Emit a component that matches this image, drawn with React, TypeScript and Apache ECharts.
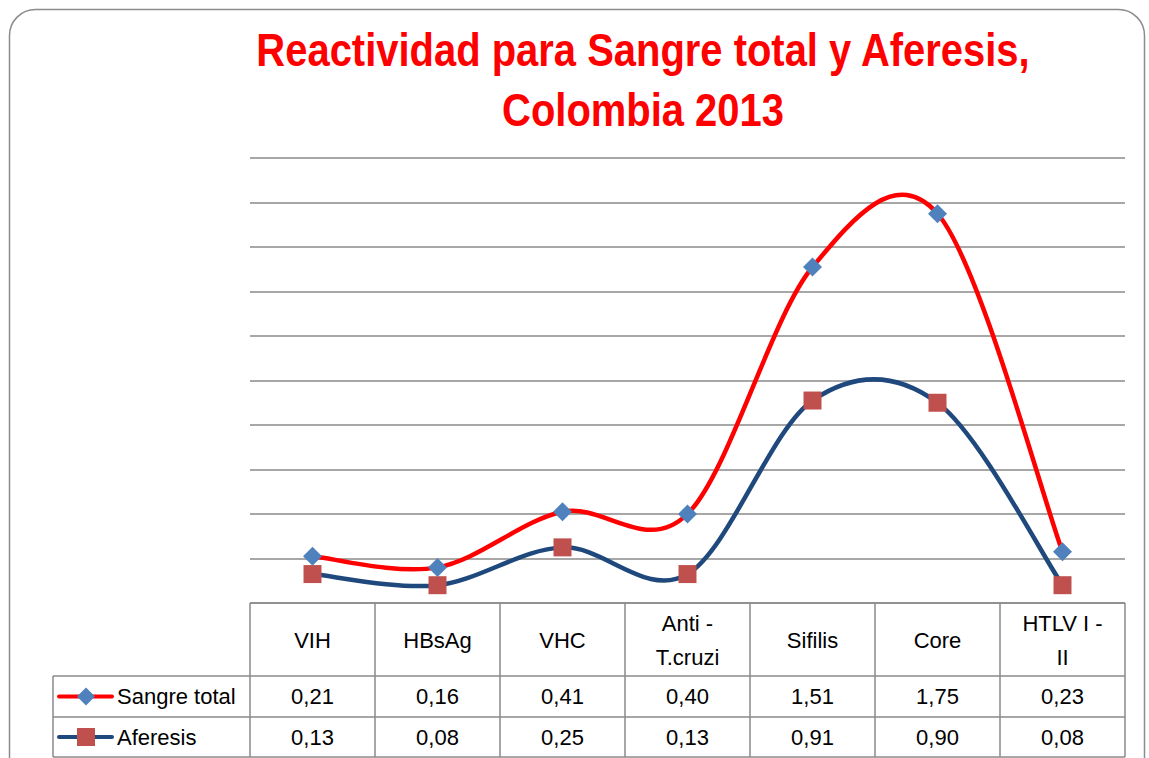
import React, { useEffect, useRef } from "react";
import * as echarts from "echarts";

const categories = ["VIH", "HBsAg", "VHC", "Anti -\nT.cruzi", "Sifilis", "Core", "HTLV I -\nII"];
const seriesNames = ["Sangre total", "Aferesis"];
const sangreTotal = [0.21, 0.16, 0.41, 0.4, 1.51, 1.75, 0.23];
const aferesis = [0.13, 0.08, 0.25, 0.13, 0.91, 0.9, 0.08];
const yMin = 0;
const yMax = 2;
const yInterval = 0.2;
const titleLines = ["Reactividad para Sangre total y Aferesis,", "Colombia 2013"];

const FONT = "'Liberation Sans Narrow', 'Arial Narrow', 'Liberation Sans', sans-serif";
const W = 1149;
const H = 758;
const GRID_L = 250;
const GRID_R = 1125;
const GRID_T = 158;
const GRID_B = 603;
const ROW1 = 676;
const ROW2 = 717;
const ROW3 = 757;
const TABLE_L = 53;
const LINE_COLOR = "#8a8a8a";
const RED = "#ff0000";
const NAVY = "#1f497d";
const BLUE_M = "#4f81bd";
const RED_M = "#c0504d";

const fmt = (v: number) => v.toFixed(2).replace(".", ",");

// Excel-like smoothed curve (Catmull-Rom, tension 1/6) drawn with a custom series
const curveSeries = (name: string, values: number[], color: string, z: number) => ({
  name,
  type: "custom",
  coordinateSystem: "cartesian2d",
  data: values.map((v, i) => [i, v]),
  z,
  silent: true,
  renderItem: (params: any, api: any) => {
    const i = params.dataIndex;
    const n = values.length;
    if (i >= n - 1) return null;
    const pt = (k: number) => {
      const kk = Math.max(0, Math.min(n - 1, k));
      return api.coord([kk, values[kk]]);
    };
    const p0 = pt(i - 1);
    const p1 = pt(i);
    const p2 = pt(i + 1);
    const p3 = pt(i + 2);
    return {
      type: "bezierCurve",
      shape: {
        x1: p1[0],
        y1: p1[1],
        x2: p2[0],
        y2: p2[1],
        cpx1: p1[0] + (p2[0] - p0[0]) / 6,
        cpy1: p1[1] + (p2[1] - p0[1]) / 6,
        cpx2: p2[0] - (p3[0] - p1[0]) / 6,
        cpy2: p2[1] - (p3[1] - p1[1]) / 6,
      },
      style: { stroke: color, lineWidth: 4.5, fill: null, lineCap: "round" },
    };
  },
});

export default function App() {
  const ref = useRef<HTMLDivElement>(null);
  useEffect(() => {
    document.body.style.margin = "0";
    if (!ref.current) return;
    const chart = echarts.init(ref.current, null, { renderer: "svg" });
    const n = categories.length;
    const cw = (GRID_R - GRID_L) / n;
    const g: any[] = [];
    g.push({
      type: "rect",
      shape: { x: 9.5, y: 9.5, width: 1135, height: 800, r: 26 },
      style: { fill: "none", stroke: "#8c8c8c", lineWidth: 1.5 },
      silent: true,
    });
    titleLines.forEach((t, i) => {
      g.push({
        type: "text",
        x: 643,
        y: 50 + i * 60,
        scaleX: 0.85,
        style: {
          text: t,
          fill: RED,
          font: `bold 47px ${FONT}`,
          textAlign: "center",
          textVerticalAlign: "middle",
        },
      });
    });
    const line = (x1: number, y1: number, x2: number, y2: number) => ({
      type: "line",
      shape: { x1, y1, x2, y2 },
      style: { stroke: LINE_COLOR, lineWidth: 1.5 },
      silent: true,
    });
    g.push(line(GRID_L, GRID_B, GRID_R, GRID_B));
    g.push(line(TABLE_L, ROW1, GRID_R, ROW1));
    g.push(line(TABLE_L, ROW2, GRID_R, ROW2));
    g.push(line(TABLE_L, ROW3, GRID_R, ROW3));
    g.push(line(TABLE_L, ROW1, TABLE_L, ROW3));
    for (let i = 0; i <= n; i++) {
      const x = GRID_L + cw * i;
      g.push(line(x, GRID_B, x, ROW3));
    }
    categories.forEach((c, i) => {
      g.push({
        type: "text",
        x: GRID_L + cw * (i + 0.5),
        y: (GRID_B + ROW1) / 2 + 1,
        style: {
          text: c,
          fill: "#000",
          font: `22px ${FONT}`,
          lineHeight: 34,
          textAlign: "center",
          textVerticalAlign: "middle",
        },
      });
    });
    const rows = [sangreTotal, aferesis];
    const rowY = [(ROW1 + ROW2) / 2, (ROW2 + ROW3) / 2];
    rows.forEach((vals, r) => {
      vals.forEach((v, i) => {
        g.push({
          type: "text",
          x: GRID_L + cw * (i + 0.5),
          y: rowY[r],
          style: {
            text: fmt(v),
            fill: "#000",
            font: `22px ${FONT}`,
            textAlign: "center",
            textVerticalAlign: "middle",
          },
        });
      });
      const color = r === 0 ? RED : NAVY;
      g.push({
        type: "line",
        shape: { x1: 59, y1: rowY[r], x2: 112, y2: rowY[r] },
        style: { stroke: color, lineWidth: 4, lineCap: "round" },
      });
      if (r === 0) {
        g.push({
          type: "polygon",
          shape: {
            points: [
              [86, rowY[r] - 9],
              [95, rowY[r]],
              [86, rowY[r] + 9],
              [77, rowY[r]],
            ],
          },
          style: { fill: BLUE_M },
        });
      } else {
        g.push({
          type: "rect",
          shape: { x: 77, y: rowY[r] - 9, width: 18, height: 18 },
          style: { fill: RED_M },
        });
      }
      g.push({
        type: "text",
        x: 117,
        y: rowY[r],
        style: {
          text: seriesNames[r],
          fill: "#000",
          font: `22px ${FONT}`,
          textAlign: "left",
          textVerticalAlign: "middle",
        },
      });
    });

    chart.setOption({
      animation: false,
      grid: { left: GRID_L, right: W - GRID_R, top: GRID_T, bottom: H - GRID_B, containLabel: false },
      xAxis: {
        type: "category",
        data: categories,
        boundaryGap: true,
        axisLine: { show: false },
        axisTick: { show: false },
        axisLabel: { show: false },
      },
      yAxis: {
        type: "value",
        min: yMin,
        max: yMax,
        interval: yInterval,
        axisLine: { show: false },
        axisTick: { show: false },
        axisLabel: { show: false },
        splitLine: { lineStyle: { color: LINE_COLOR, width: 1.5 } },
      },
      series: [
        curveSeries(seriesNames[1], aferesis, NAVY, 2),
        curveSeries(seriesNames[0], sangreTotal, RED, 3),
        {
          name: seriesNames[1],
          type: "line",
          data: aferesis,
          symbol: "rect",
          symbolSize: 18,
          lineStyle: { width: 0, opacity: 0 },
          itemStyle: { color: RED_M },
          z: 4,
        },
        {
          name: seriesNames[0],
          type: "line",
          data: sangreTotal,
          symbol: "diamond",
          symbolSize: 19,
          lineStyle: { width: 0, opacity: 0 },
          itemStyle: { color: BLUE_M },
          z: 5,
        },
      ],
      graphic: g,
    });
    return () => chart.dispose();
  }, []);
  return <div ref={ref} style={{ width: W, height: H }} />;
}
